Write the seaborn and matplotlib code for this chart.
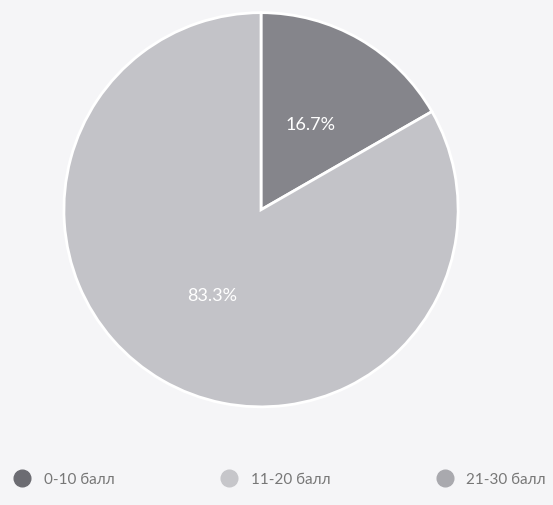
import matplotlib
matplotlib.use("Agg")
import matplotlib.pyplot as plt
import seaborn as sns
from matplotlib.lines import Line2D

# data
categories = ["0-10 балл", "11-20 балл", "21-30 балл"]
shares = [16.7, 83.3, 0.0]
colors = ["#85858b", "#c3c3c8", "#a9a9ae"]
legend_colors = ["#6c6c72", "#c6c6ca", "#a9a9ae"]

sns.set_theme(style="white")
plt.rcParams["font.family"] = ["Lato", "DejaVu Sans"]

fig = plt.figure(figsize=(5.53, 5.06), dpi=100, facecolor="#f5f5f7")
ax = fig.add_axes([0.112, 0.19, 0.72, 0.787])
ax.set_facecolor("#f5f5f7")

# only the non-zero slices get drawn
vals = [v for v in shares if v > 0]
cols = [c for v, c in zip(shares, colors) if v > 0]
wedges, texts, autotexts = ax.pie(
    vals, colors=cols, startangle=90, counterclock=False,
    autopct="%.1f%%", pctdistance=0.5,
    wedgeprops=dict(edgecolor="white", linewidth=2),
    textprops=dict(color="white", fontsize=13),
)
ax.set_aspect("equal")
ax.set_xlim(-1.01, 1.01)
ax.set_ylim(-1.01, 1.01)

# legend
handles = [Line2D([0], [0], marker="o", linestyle="", markersize=12,
                  markerfacecolor=c, markeredgecolor=c) for c in legend_colors]
fig.legend(handles, categories, loc="lower center", ncol=3, frameon=False,
           bbox_to_anchor=(0.5, 0.01), columnspacing=6.5, handletextpad=0.4,
           labelcolor="#777777", fontsize=11)

fig.savefig("out.png", dpi=100, facecolor=fig.get_facecolor())
